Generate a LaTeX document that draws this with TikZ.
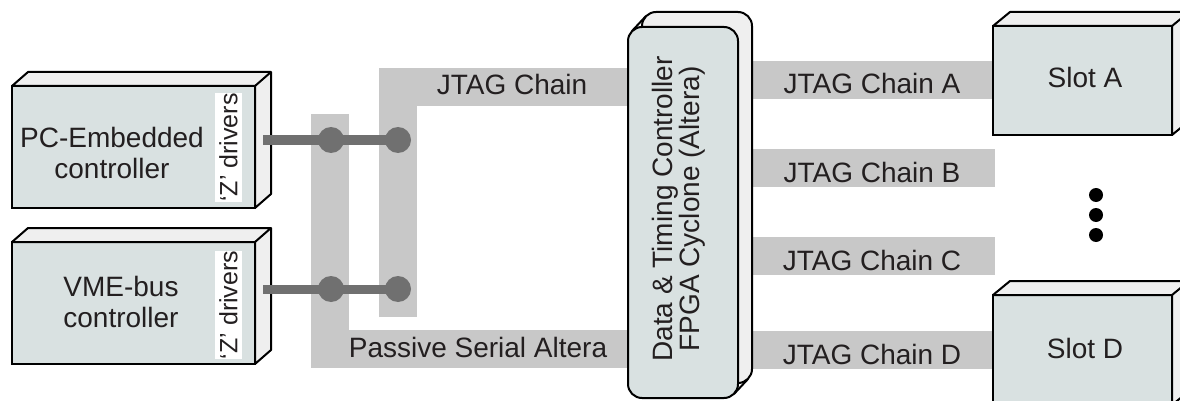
\documentclass[tikz,border=0pt]{standalone}
\usepackage{fontspec}
\setmainfont{Liberation Sans}
\definecolor{boxfill}{HTML}{D9E1E1}
\definecolor{sidefill}{HTML}{EFEFEF}
\definecolor{bargray}{HTML}{C8C8C8}
\definecolor{wiregray}{HTML}{707070}
\definecolor{txt}{HTML}{231F20}
\pgfdeclarelayer{bg}
\pgfsetlayers{bg,main}
\newcommand\mkcube[3]{%
  \draw[side] (#1.north west) -- ([shift={(#2,-#3)}]#1.north west) -- ([shift={(#2,-#3)}]#1.north east)
    -- ([shift={(#2,-#3)}]#1.south east) -- (#1.south east) -- (#1.north east) -- cycle
    (#1.north east) -- ([shift={(#2,-#3)}]#1.north east);}
\begin{document}
\begin{tikzpicture}[x=1pt,y=-1pt,
  front/.style={draw=black, line width=2pt, fill=boxfill, inner sep=0pt, outer sep=0pt},
  side/.style={draw=black, line width=2pt, fill=sidefill, line join=round},
  bar/.style={draw=bargray, line width=38pt},
  wire/.style={draw=wiregray, line width=9pt},
  joint/.style={circle, fill=wiregray, minimum size=26pt, inner sep=0pt},
  lbl/.style={font=\fontsize{28}{31}\selectfont, text=txt, align=center, inner sep=0pt},
  zlbl/.style={fill=white, minimum width=108pt, minimum height=27pt, inner sep=0pt, rotate=90,
    text=txt, font=\fontsize{25}{25}\selectfont},
  dot/.style={circle, fill=black, minimum size=14pt, inner sep=0pt}]
\useasboundingbox (0,0) rectangle (1180,401);

% left controllers
\node[front, minimum width=243pt, minimum height=122pt] (pc) at (133.5,147) {};
\mkcube{pc}{16}{14}
\node[lbl] (pct) at (112,153) {PC-Embedded\\controller};
\node[zlbl] (pcz) at (228.5,147.5) {‘Z’ drivers};

\node[front, minimum width=243pt, minimum height=122pt] (vme) at (133.5,303) {};
\mkcube{vme}{16}{14}
\node[lbl] (vmet) at (121,302) {VME-bus\\controller};
\node[zlbl] (vmez) at (228.5,305) {‘Z’ drivers};

% FPGA
\draw[side, rounded corners=14pt] (642,12) rectangle (752,383);
\node[front, rounded corners=14pt, minimum width=110pt, minimum height=371pt] (fpga) at (683,212.5) {};
\draw[line width=2pt] (632,31) -- (646,16) (734,394) -- (748,379);
\node[lbl, rotate=90, font=\fontsize{28}{26}\selectfont] (fpgat) at (679,209) {Data \& Timing Controller\\FPGA Cyclone (Altera)};

% slots
\node[front, minimum width=179pt, minimum height=109pt] (slA) at (1082.5,80.5) {};
\mkcube{slA}{17}{14}
\node[lbl] (slAt) at (1085,77) {Slot A};
\node[front, minimum width=179pt, minimum height=110pt] (slD) at (1082.5,350) {};
\mkcube{slD}{17}{14}
\node[lbl] (slDt) at (1085,348) {Slot D};

\node[dot] (d1) at (1096,195) {};
\node[dot] (d2) at (1096,215) {};
\node[dot] (d3) at (1096,235) {};

% bus bars
\coordinate (psTop) at (330,114);
\coordinate (psY) at (0,349);
\coordinate (jtTop) at (398,317);
\coordinate (jtY) at (0,87);
\coordinate (bEnd) at (995,168);
\coordinate (cEnd) at (995,256);
\begin{pgfonlayer}{bg}
\draw[bar] (psTop) |- (fpga.west |- psY);
\draw[bar] (jtTop) |- (fpga.west |- jtY);
\draw[bar] (fpga.east |- slA.west) -- (slA.west);
\draw[bar] (fpga.east |- bEnd) -- (bEnd);
\draw[bar] (fpga.east |- cEnd) -- (cEnd);
\draw[bar] (fpga.east |- slD.west) -- (slD.west);
\end{pgfonlayer}

\node[lbl] (jt) at (512,84) {JTAG Chain};
\node[lbl] (ps) at (478,347) {Passive Serial Altera};
\node[lbl] (ja) at (872,83) {JTAG Chain A};
\node[lbl] (jb) at (872,172) {JTAG Chain B};
\node[lbl] (jc) at (872,260) {JTAG Chain C};
\node[lbl] (jd) at (872,354) {JTAG Chain D};

% wires and joints
\coordinate (j1) at (331,140);
\coordinate (j2) at (398,140);
\coordinate (k1) at (331,289);
\coordinate (k2) at (398,289);
\draw[wire, shorten <=8pt] (pc.east |- j1) -- (j2);
\draw[wire, shorten <=8pt] (vme.east |- k1) -- (k2);
\node[joint] (J1) at (j1) {};
\node[joint] (J2) at (j2) {};
\node[joint] (K1) at (k1) {};
\node[joint] (K2) at (k2) {};
\end{tikzpicture}
\end{document}
